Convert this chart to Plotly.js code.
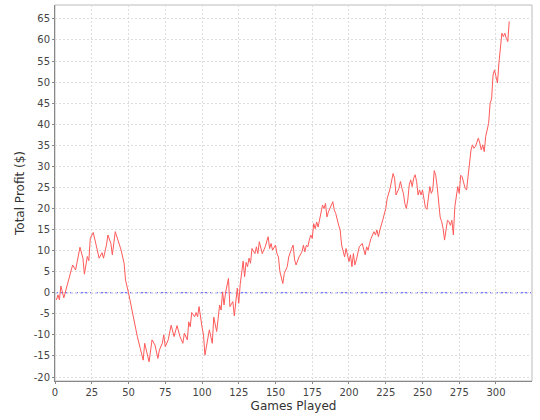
<!DOCTYPE html>
<html>
<head>
<meta charset="utf-8">
<script src="https://cdn.plot.ly/plotly-3.0.1.min.js"></script>
<style>html,body{margin:0;padding:0;background:#fff;}#chart{width:540px;height:420px;}</style>
</head>
<body>
<div id="chart"></div>
<script>
// Games played (x) and cumulative total profit in $ (y)
var games = [1,2,3,4,6,7,8,10,12,14,15,17,19,20,22,23,24,26,28,30,32,33,35,36,38,39,41,43,45,47,48,50,52,54,56,58,60,61,62,64,66,68,70,71,73,74,75,77,79,81,83,85,87,88,90,91,92,93,95,96,97,98,100,101,102,104,105,107,108,110,111,112,113,114,115,116,118,119,121,122,124,125,126,128,129,130,131,132,133,134,136,137,138,139,141,143,145,146,147,148,150,151,152,153,155,156,158,159,161,162,163,164,166,167,168,169,170,171,172,173,174,175,176,177,178,179,180,181,182,183,184,185,186,188,189,190,191,193,194,195,196,197,198,200,201,202,203,204,205,206,207,209,210,211,212,213,214,215,217,218,219,220,221,222,223,225,226,228,229,230,231,232,234,235,236,237,238,239,240,241,242,243,244,245,246,247,248,249,250,251,252,253,254,255,256,257,258,259,260,261,262,263,264,265,266,267,268,269,270,271,272,273,274,275,276,277,278,279,280,281,282,283,284,285,286,287,288,289,290,291,292,293,294,295,296,297,298,299,300,301,302,303,304,305,306,307,308,309];
var profit = [-1.7,-0.5,-1.7,1.6,-1.2,0,1.6,3.9,6.6,5.4,7.4,10.8,8.2,4.4,8.6,7.6,12.9,14.3,11.3,8.2,9.5,8.2,11.3,13.7,11.7,9.0,14.5,12.1,10.1,7.0,3.0,0,-3.6,-7.2,-10.4,-13.2,-16.0,-12.0,-13.6,-16.4,-11.2,-12.4,-15.6,-13.6,-12.0,-10.0,-12.8,-11.2,-7.7,-10.4,-7.8,-10.4,-12.0,-9.6,-11.2,-6.9,-8.1,-4.7,-5.7,-4.7,-5.7,-3.3,-8.1,-10.0,-14.8,-10.0,-8.8,-12.0,-5.8,-9.2,-6.5,-2.9,-4.1,0.2,-2.9,-0.1,3.4,-3.3,-2.1,-5.5,1.1,-2.5,2.0,7.5,3.8,7.2,6.2,8.2,7.0,10.5,9.3,10.9,9.3,12.1,9.3,10.9,13.3,10.5,11.7,10.1,11.3,9.3,8.5,5.0,2.2,4.6,6.2,8.5,10.5,11.3,7.8,6.6,8.5,9.3,9.7,11.3,9.7,11.3,10.9,12.5,13.7,12.9,16.4,15.2,16.8,15.6,17.2,19.6,20.8,20.0,21.2,18.0,19.2,20.8,21.6,19.6,18.8,16.0,14.9,11.3,9.7,8.5,10.5,7.4,9.0,6.2,9.3,6.6,7.8,9.7,10.9,11.7,10.1,9.0,10.9,10.1,11.7,12.9,14.5,13.7,14.9,13.3,14.9,16.5,17.3,20.0,22.4,24.8,26.8,28.3,27.2,23.2,24.8,26.4,24.8,23.6,21.2,20.0,22.0,25.6,26.8,25.2,27.2,28.0,26.4,23.2,24.4,23.2,24.4,21.6,20.2,19.8,22.0,25.2,23.6,24.4,29.0,27.8,25.2,22.0,18.0,16.9,15.3,12.5,14.9,17.2,16.9,16.0,17.2,13.7,20.4,23.2,25.2,23.6,27.9,27.5,25.9,24.8,24.4,27.9,31.5,33.9,35.1,34.3,34.7,35.5,36.7,35.5,33.9,35.1,33.5,37.1,39.0,40.2,45.0,46.0,51.7,52.9,51.3,49.8,54.5,57.6,61.6,60.8,61.6,60.4,59.6,64.4,63.2];
var xTicks = [0,25,50,75,100,125,150,175,200,225,250,275,300];
var yTicks = [-20,-15,-10,-5,0,5,10,15,20,25,30,35,40,45,50,55,60,65];
var xTitle = 'Games Played';
var yTitle = 'Total Profit ($)';

var traces = [{
  x: games, y: profit, type: 'scatter', mode: 'lines',
  line: {color: '#ff5a5a', width: 1}, hoverinfo: 'skip', showlegend: false
}];

var tickFont = {family: 'DejaVu Sans, sans-serif', size: 10, color: '#444444'};
var layout = {
  width: 540, height: 420,
  margin: {l: 55, r: 8, t: 5, b: 39, pad: 0},
  paper_bgcolor: '#ffffff', plot_bgcolor: '#ffffff',
  showlegend: false,
  xaxis: {
    range: [0, 324.5], tickmode: 'array', tickvals: xTicks, ticktext: xTicks.map(String),
    showgrid: true, gridcolor: '#dddddd', griddash: '2px,2px', gridwidth: 1,
    zeroline: false, showline: true, linecolor: '#888888', linewidth: 1,
    ticks: 'outside', ticklen: 2, tickcolor: '#888888', tickfont: tickFont,
    title: {text: xTitle, font: {family: 'DejaVu Sans, sans-serif', size: 12, color: '#333333'}, standoff: 4},
    automargin: false
  },
  yaxis: {
    range: [-20.95, 68.3], tickmode: 'array', tickvals: yTicks, ticktext: yTicks.map(String),
    showgrid: true, gridcolor: '#dddddd', griddash: '2px,2px', gridwidth: 1,
    zeroline: false, showline: true, linecolor: '#888888', linewidth: 1,
    ticks: 'outside', ticklen: 2, tickcolor: '#888888', tickfont: tickFont,
    title: {text: yTitle, font: {family: 'DejaVu Sans, sans-serif', size: 12, color: '#333333'}, standoff: 6},
    automargin: false
  },
  shapes: [
    {type: 'line', xref: 'paper', x0: 0, x1: 1, yref: 'y', y0: 0, y1: 0,
     line: {color: '#4a4aff', width: 1, dash: '3px,2px'}, layer: 'below'},
    {type: 'rect', xref: 'paper', yref: 'paper', x0: 0, x1: 1, y0: 0, y1: 1,
     line: {color: '#bbbbbb', width: 1}, fillcolor: 'rgba(0,0,0,0)', layer: 'below'}
  ]
};
Plotly.newPlot('chart', traces, layout, {staticPlot: true, displayModeBar: false});
</script>
</body>
</html>
